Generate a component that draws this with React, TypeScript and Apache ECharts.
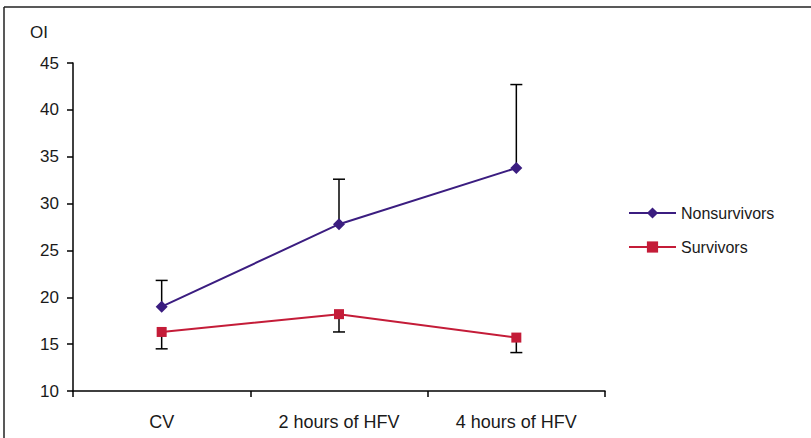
import React, { useEffect, useRef } from "react";
import * as echarts from "echarts";

const categories = ["CV", "2 hours of HFV", "4 hours of HFV"];
const nonsurvivors = [19.0, 27.8, 33.8];
const nonsurvivorsUpper = [21.8, 32.6, 42.7];
const survivors = [16.3, 18.2, 15.7];
const survivorsLower = [14.5, 16.3, 14.1];
const yMin = 10;
const yMax = 45;
const yStep = 5;

const FONT = "Liberation Sans";
const TEXT = "#1a1a1a";
const PURPLE = "#3b1d80";
const RED = "#c41c38";

function errorRender(params: any, api: any) {
  const x = api.value(0);
  const p1 = api.coord([x, api.value(1)]);
  const p2 = api.coord([x, api.value(2)]);
  const half = 6;
  const style = { stroke: "#000", lineWidth: 1.5 };
  return {
    type: "group",
    children: [
      { type: "line", shape: { x1: p1[0], y1: p1[1], x2: p2[0], y2: p2[1] }, style },
      { type: "line", shape: { x1: p2[0] - half, y1: p2[1], x2: p2[0] + half, y2: p2[1] }, style },
    ],
  };
}

export default function App() {
  const ref = useRef<HTMLDivElement>(null);
  useEffect(() => {
    if (!ref.current) return;
    const chart = echarts.init(ref.current, null, { renderer: "svg" });
    chart.setOption({
      animation: false,
      backgroundColor: "#fff",
      grid: { left: 73, right: 206, top: 63, bottom: 47, containLabel: false },
      legend: {
        data: ["Nonsurvivors", "Survivors"],
        orient: "vertical",
        left: 628,
        top: 205,
        padding: 0,
        itemWidth: 47,
        itemHeight: 14,
        itemGap: 18,
        textStyle: { fontFamily: FONT, fontSize: 16, color: TEXT },
      },
      xAxis: {
        type: "category",
        data: categories,
        boundaryGap: true,
        axisLine: { lineStyle: { color: "#000", width: 1.5 } },
        axisTick: { show: true, interval: 0, length: 6, lineStyle: { color: "#000", width: 1.5 } },
        axisLabel: { fontFamily: FONT, fontSize: 18, color: TEXT, margin: 22, interval: 0 },
        splitLine: { show: false },
      },
      yAxis: {
        type: "value",
        min: yMin,
        max: yMax,
        interval: yStep,
        axisLine: { show: true, lineStyle: { color: "#000", width: 1.5 } },
        axisTick: { show: true, length: 6, lineStyle: { color: "#000", width: 1.5 } },
        axisLabel: { fontFamily: FONT, fontSize: 17, color: TEXT, margin: 14 },
        splitLine: { show: false },
      },
      graphic: [
        {
          type: "text",
          left: 30,
          top: 24,
          style: { text: "OI", fontFamily: FONT, fontSize: 17, fill: TEXT },
        },
        {
          type: "line",
          shape: { x1: 4, y1: 7, x2: 811, y2: 7 },
          style: { stroke: "#222", lineWidth: 1.5 },
        },
        {
          type: "line",
          shape: { x1: 4, y1: 7, x2: 4, y2: 438 },
          style: { stroke: "#222", lineWidth: 1.5 },
        },
      ],
      series: [
        {
          type: "custom",
          name: "errN",
          renderItem: errorRender,
          data: categories.map((_, i) => [i, nonsurvivors[i], nonsurvivorsUpper[i]]),
          encode: { x: 0, y: [1, 2] },
          z: 1,
          silent: true,
        },
        {
          type: "custom",
          name: "errS",
          renderItem: errorRender,
          data: categories.map((_, i) => [i, survivors[i], survivorsLower[i]]),
          encode: { x: 0, y: [1, 2] },
          z: 1,
          silent: true,
        },
        {
          type: "line",
          name: "Nonsurvivors",
          data: nonsurvivors,
          symbol: "diamond",
          symbolSize: 12,
          color: PURPLE,
          lineStyle: { color: PURPLE, width: 2 },
          itemStyle: { color: PURPLE },
          z: 3,
        },
        {
          type: "line",
          name: "Survivors",
          data: survivors,
          symbol: "rect",
          symbolSize: 10,
          color: RED,
          lineStyle: { color: RED, width: 2 },
          itemStyle: { color: RED },
          z: 3,
        },
      ],
    });
    return () => chart.dispose();
  }, []);
  return (
    <div
      ref={ref}
      style={{ position: "fixed", left: 0, top: 0, width: 811, height: 438 }}
    />
  );
}
